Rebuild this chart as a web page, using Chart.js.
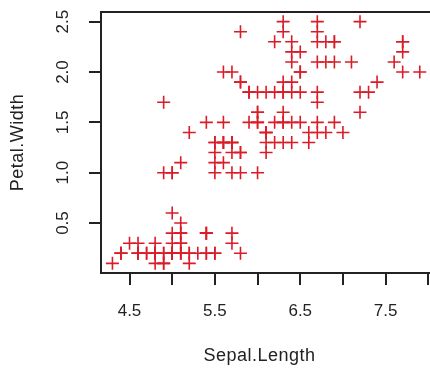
<!DOCTYPE html>
<html>
<head>
<meta charset="utf-8">
<script src="https://cdn.jsdelivr.net/npm/chart.js@4"></script>
<style>
  html, body { margin: 0; padding: 0; background: #fff; overflow: hidden; }
  #wrap { width: 430px; height: 372px; }
  canvas { display: block; }
</style>
</head>
<body>
<div id="wrap"><canvas id="myChart"></canvas></div>
<script>
// iris: Sepal.Length vs Petal.Width
const sepalLength = [
  5.1,4.9,4.7,4.6,5.0,5.4,4.6,5.0,4.4,4.9,5.4,4.8,4.8,4.3,5.8,5.7,5.4,5.1,5.7,5.1,5.4,5.1,4.6,5.1,4.8,
  5.0,5.0,5.2,5.2,4.7,4.8,5.4,5.2,5.5,4.9,5.0,5.5,4.9,4.4,5.1,5.0,4.5,4.4,5.0,5.1,4.8,5.1,4.6,5.3,5.0,
  7.0,6.4,6.9,5.5,6.5,5.7,6.3,4.9,6.6,5.2,5.0,5.9,6.0,6.1,5.6,6.7,5.6,5.8,6.2,5.6,5.9,6.1,6.3,6.1,6.4,
  6.6,6.8,6.7,6.0,5.7,5.5,5.5,5.8,6.0,5.4,6.0,6.7,6.3,5.6,5.5,5.5,6.1,5.8,5.0,5.6,5.7,5.7,6.2,5.1,5.7,
  6.3,5.8,7.1,6.3,6.5,7.6,4.9,7.3,6.7,7.2,6.5,6.4,6.8,5.7,5.8,6.4,6.5,7.7,7.7,6.0,6.9,5.6,7.7,6.3,6.7,
  7.2,6.2,6.1,6.4,7.2,7.4,7.9,6.4,6.3,6.1,7.7,6.3,6.4,6.0,6.9,6.7,6.9,5.8,6.8,6.7,6.7,6.3,6.5,6.2,5.9
];
const petalWidth = [
  0.2,0.2,0.2,0.2,0.2,0.4,0.3,0.2,0.2,0.1,0.2,0.2,0.1,0.1,0.2,0.4,0.4,0.3,0.3,0.3,0.2,0.4,0.2,0.5,0.2,
  0.2,0.4,0.2,0.2,0.2,0.2,0.4,0.1,0.2,0.2,0.2,0.2,0.1,0.2,0.2,0.3,0.3,0.2,0.6,0.4,0.3,0.2,0.2,0.2,0.2,
  1.4,1.5,1.5,1.3,1.5,1.3,1.6,1.0,1.3,1.4,1.0,1.5,1.0,1.4,1.3,1.4,1.5,1.0,1.5,1.1,1.8,1.3,1.5,1.2,1.3,
  1.4,1.4,1.7,1.5,1.0,1.1,1.0,1.2,1.6,1.5,1.6,1.5,1.3,1.3,1.3,1.2,1.4,1.2,1.0,1.3,1.2,1.3,1.3,1.1,1.3,
  2.5,1.9,2.1,1.8,2.2,2.1,1.7,1.8,1.8,2.5,2.0,1.9,2.1,2.0,2.4,2.3,1.8,2.2,2.3,1.5,2.3,2.0,2.0,1.8,2.1,
  1.8,1.8,1.8,2.1,1.6,1.9,2.0,2.2,1.5,1.4,2.3,2.4,1.8,1.8,2.1,2.4,2.3,1.9,2.3,2.5,2.3,1.9,2.0,2.3,1.8
];
const xTicks = [4.5, 5.0, 5.5, 6.0, 6.5, 7.0, 7.5, 8.0];
const xTickLabels = ['4.5', '5.5', '6.5', '7.5'];
const yTicks = [0.5, 1.0, 1.5, 2.0, 2.5];
const yTickLabels = ['0.5', '1.0', '1.5', '2.0', '2.5'];
const xTitle = 'Sepal.Length';
const yTitle = 'Petal.Width';

const FONT = '"Liberation Sans", Arial, sans-serif';
const INK = '#222';

const points = sepalLength.map((v, i) => ({x: v, y: petalWidth[i]}));

// R-style extras: rotated y labels, axis titles, top of the box
const rLabels = {
  id: 'rLabels',
  afterDraw(chart) {
    const {ctx, chartArea, scales: {y}} = chart;
    ctx.save();
    ctx.fillStyle = INK;
    ctx.font = '17px ' + FONT;
    ctx.textAlign = 'center';
    ctx.textBaseline = 'middle';
    yTicks.forEach((v, i) => {
      ctx.save();
      ctx.translate(63, y.getPixelForValue(v));
      ctx.rotate(-Math.PI / 2);
      ctx.fillText(yTickLabels[i], 0, 0);
      ctx.restore();
    });
    ctx.font = '18px ' + FONT;
    ctx.letterSpacing = '0.5px';
    ctx.save();
    ctx.translate(18, (chartArea.top + chartArea.bottom) / 2);
    ctx.rotate(-Math.PI / 2);
    ctx.fillText(yTitle, 0, 0);
    ctx.restore();
    ctx.fillText(xTitle, (chartArea.left + chartArea.right) / 2 - 6, 356);
    ctx.letterSpacing = '0px';

    ctx.strokeStyle = INK;
    ctx.lineWidth = 2;
    ctx.beginPath();
    ctx.moveTo(chartArea.left - 1, chartArea.top);
    ctx.lineTo(chartArea.right, chartArea.top);
    ctx.stroke();
    ctx.restore();
  }
};

const ctx = document.getElementById('myChart');

new Chart(ctx, {
  type: 'scatter',
  data: {
    datasets: [{
      label: 'iris',
      data: points,
      pointStyle: 'cross',
      pointRadius: 6.5,
      pointHoverRadius: 6.5,
      pointBorderWidth: 1.6,
      borderColor: 'rgb(218,28,40)',
      backgroundColor: 'rgb(218,28,40)'
    }]
  },
  options: {
    responsive: true,
    maintainAspectRatio: false,
    animation: false,
    events: [],
    layout: { autoPadding: false, padding: { top: 12, right: 0, left: 0, bottom: 0 } },
    plugins: {
      legend: { display: false },
      tooltip: { enabled: false }
    },
    scales: {
      x: {
        type: 'linear',
        min: 4.166,
        max: 8.02,
        afterBuildTicks: s => { s.ticks = xTicks.map(v => ({value: v})); },
        afterFit: s => { s.height = 99; s.paddingLeft = 0; s.paddingRight = 0; },
        grid: { drawOnChartArea: false, drawTicks: true, tickLength: 12, color: INK, lineWidth: 2 },
        border: { display: true, color: INK, width: 2 },
        ticks: {
          padding: 16,
          color: INK,
          font: { size: 17, family: FONT },
          maxRotation: 0,
          autoSkip: false,
          callback: v => {
            const t = v.toFixed(1);
            return xTickLabels.includes(t) ? t : '';
          }
        }
      },
      y: {
        type: 'linear',
        min: 0.004,
        max: 2.596,
        afterBuildTicks: s => { s.ticks = yTicks.map(v => ({value: v})); },
        afterFit: s => { s.width = 101; s.paddingTop = 0; s.paddingBottom = 0; },
        grid: { drawOnChartArea: false, drawTicks: true, tickLength: 12, color: INK, lineWidth: 2 },
        border: { display: true, color: INK, width: 2 },
        ticks: { display: false }
      }
    }
  },
  plugins: [rLabels]
});
</script>
</body>
</html>
